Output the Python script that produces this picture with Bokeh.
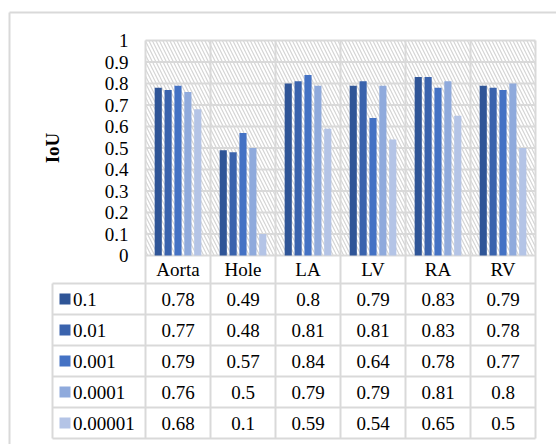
import numpy as np
from bokeh.plotting import figure
from bokeh.models import ColumnDataSource, Range1d, BoxAnnotation
from bokeh.transform import dodge
from bokeh.core.properties import value
from bokeh.embed import file_html
from bokeh.resources import INLINE

# ---------------- data ----------------
categories = ["Aorta", "Hole", "LA", "LV", "RA", "RV"]
series_names = ["0.1", "0.01", "0.001", "0.0001", "0.00001"]
s_0_1 = [0.78, 0.49, 0.80, 0.79, 0.83, 0.79]
s_0_01 = [0.77, 0.48, 0.81, 0.81, 0.83, 0.78]
s_0_001 = [0.79, 0.57, 0.84, 0.64, 0.78, 0.77]
s_0_0001 = [0.76, 0.50, 0.79, 0.79, 0.81, 0.80]
s_0_00001 = [0.68, 0.10, 0.59, 0.54, 0.65, 0.50]
series_values = [s_0_1, s_0_01, s_0_001, s_0_0001, s_0_00001]
y_ticks = [0, 0.1, 0.2, 0.3, 0.4, 0.5, 0.6, 0.7, 0.8, 0.9, 1.0]
y_tick_labels = ["0", "0.1", "0.2", "0.3", "0.4", "0.5", "0.6", "0.7", "0.8", "0.9", "1"]
y_label = "IoU"

# ---------------- style / geometry ----------------
colors = ["#2F5597", "#3A63AD", "#4472C4", "#8FAADC", "#B4C4E6"]
GRID = "#d9d9d9"
FONT = value("Liberation Serif")
FS = "19px"
n_cat = len(categories)
n_ser = len(series_names)

W, H = 556, 444          # canvas
PX_X = 65.0              # px per category
PX_Y = 215.0             # px per 1.0 of IoU
FR_L, FR_T = 145, 40     # plot-area corner inside canvas
LABEL_ROW = 28 / PX_Y
ROW = 31 / PX_Y
LEG_W = 93 / PX_X
BAR_W = 0.11
PITCH = 0.152

x0 = -FR_L / PX_X
x1 = (W - FR_L) / PX_X
y_top = 1 + FR_T / PX_Y
y_bot = 1 - (H - FR_T) / PX_Y

p = figure(width=W, height=H, x_range=Range1d(x0, x1), y_range=Range1d(y_bot, y_top),
           output_backend="svg", toolbar_location=None,
           x_axis_location=None, y_axis_location=None,
           min_border_left=0, min_border_right=0, min_border_top=0, min_border_bottom=0)
p.outline_line_color = None
p.grid.visible = False

# outer chart border (top and left edges)
ob_x = x0 + 9 / PX_X
ob_y = y_top - 12 / PX_Y
p.segment(x0=[ob_x, ob_x], y0=[ob_y, ob_y], x1=[x1, ob_x], y1=[ob_y, y_bot],
          line_color=GRID, line_width=2)

# hatched plot area
p.add_layout(BoxAnnotation(left=0, right=n_cat, bottom=0, top=1,
                           fill_color="white", fill_alpha=1.0, line_color=None,
                           hatch_pattern="\\", hatch_color="#d4d4d4", hatch_weight=1.2,
                           hatch_scale=7, level="image"))

table_bottom = -LABEL_ROW - n_ser * ROW
row_lines = [-LABEL_ROW - r * ROW for r in range(n_ser + 1)]

# horizontal gridlines of the plot area
p.segment(x0=[0] * len(y_ticks), y0=y_ticks, x1=[n_cat] * len(y_ticks), y1=y_ticks,
          line_color=GRID, line_width=2)
# vertical category separators through plot, label row and table
bounds = list(range(n_cat + 1))
p.segment(x0=bounds, y0=[table_bottom] * len(bounds), x1=bounds, y1=[1] * len(bounds),
          line_color=GRID, line_width=2)
# table horizontal lines and legend column left edge
p.segment(x0=[-LEG_W] * len(row_lines), y0=row_lines, x1=[n_cat] * len(row_lines),
          y1=row_lines, line_color=GRID, line_width=2)
p.segment(x0=[-LEG_W], y0=[table_bottom], x1=[-LEG_W], y1=[-LABEL_ROW],
          line_color=GRID, line_width=2)

# bars
x_idx = np.arange(n_cat) + 0.5
src = ColumnDataSource({"x": x_idx, **{f"s{i}": v for i, v in enumerate(series_values)}})
for i in range(n_ser):
    off = (i - (n_ser - 1) / 2) * PITCH
    p.vbar(x=dodge("x", off), top=f"s{i}", bottom=0, width=BAR_W, source=src,
           fill_color=colors[i], line_color=None)

# y tick labels and axis title
p.text(x=[-17 / PX_X] * len(y_ticks), y=y_ticks, text=y_tick_labels, text_font=FONT,
       text_font_size=FS, text_align="right", text_baseline="middle", text_color="black")
p.text(x=[-93 / PX_X], y=[0.5], text=[y_label], angle=np.pi / 2, text_font=FONT,
       text_font_size=FS, text_font_style="bold", text_align="center",
       text_baseline="middle", text_color="black")

# category labels
p.text(x=list(x_idx), y=[-LABEL_ROW / 2] * n_cat, text=categories, text_font=FONT,
       text_font_size=FS, text_align="center", text_baseline="middle", text_color="black")

# table values
row_y = [-LABEL_ROW - (r + 0.5) * ROW for r in range(n_ser)]
tx, ty, tt = [], [], []
for r, vals in enumerate(series_values):
    for c, v in enumerate(vals):
        tx.append(x_idx[c]); ty.append(row_y[r]); tt.append(str(v))
p.text(x=tx, y=ty, text=tt, text_font=FONT, text_font_size=FS,
       text_align="center", text_baseline="middle", text_color="black")

# legend column
p.scatter(x=[-80.5 / PX_X] * n_ser, y=row_y, marker="square", size=11,
          fill_color=colors, line_color=None)
p.text(x=[-72.5 / PX_X] * n_ser, y=row_y, text=series_names, text_font=FONT,
       text_font_size=FS, text_align="left", text_baseline="middle", text_color="black")

open("out.html", "w").write(file_html(p, INLINE))
